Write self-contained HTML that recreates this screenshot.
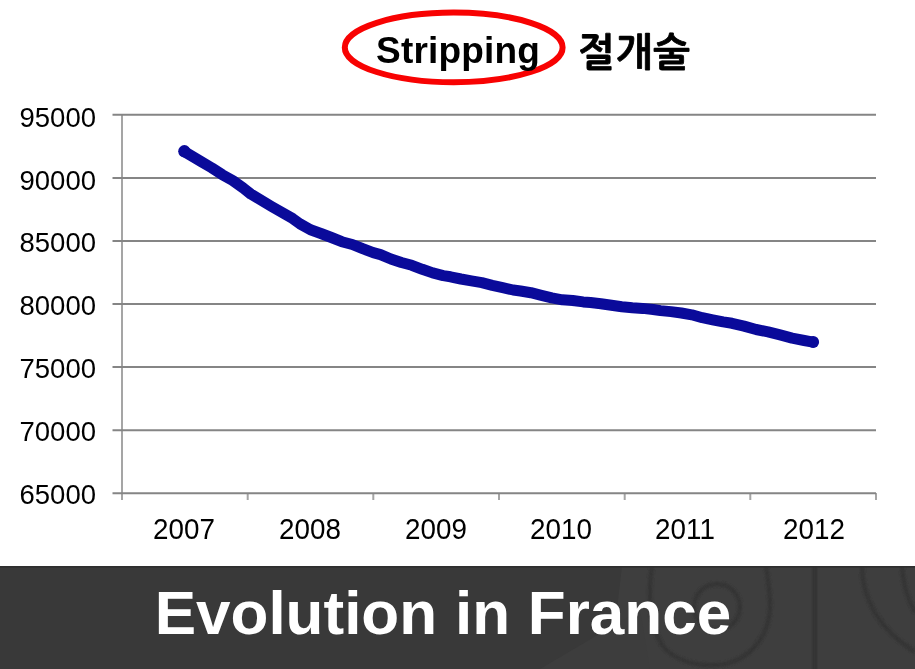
<!DOCTYPE html>
<html>
<head>
<meta charset="utf-8">
<style>
html,body{margin:0;padding:0;background:#fff;}
body{width:915px;height:669px;overflow:hidden;position:relative;font-family:"Liberation Sans",Arial,sans-serif;}
.abs{position:absolute;white-space:nowrap;}
.gs{will-change:transform;}
#ttl{left:375.8px;top:25.6px;font-size:37px;letter-spacing:0.2px;font-weight:bold;color:#000;line-height:50px;}
#ko{left:578px;top:28px;font-size:39px;font-weight:bold;color:#000;line-height:50px;letter-spacing:1px;-webkit-text-stroke:0.8px #000;font-family:"Liberation Sans","NanumGothic",sans-serif;}
.yl{position:absolute;left:0;width:96px;text-align:right;font-size:27.5px;line-height:30px;color:#000;}
.xl{position:absolute;width:126px;text-align:center;font-size:28.5px;line-height:30px;color:#000;top:512.9px;transform:scale(0.976,1.056);transform-origin:50% 50%;}
#banner{position:absolute;left:0;top:566px;width:915px;height:103px;background:#393939;overflow:hidden;}
#btxt{position:absolute;left:154.7px;top:578px;word-spacing:0.6px;font-size:62px;font-weight:bold;color:#fff;line-height:70px;}
</style>
</head>
<body>
<svg class="abs" style="left:0;top:0" width="915" height="669" viewBox="0 0 915 669">
  <ellipse cx="453.7" cy="47.4" rx="108.9" ry="34.8" fill="none" stroke="#f80202" stroke-width="6"/>
  <g stroke="#a5a5a5" stroke-width="2" fill="none">
    <line x1="122" y1="115" x2="122" y2="500"/>
    <line x1="247.7" y1="493" x2="247.7" y2="500"/>
    <line x1="373.3" y1="493" x2="373.3" y2="500"/>
    <line x1="499" y1="493" x2="499" y2="500"/>
    <line x1="624.7" y1="493" x2="624.7" y2="500"/>
    <line x1="750.3" y1="493" x2="750.3" y2="500"/>
    <line x1="876" y1="493" x2="876" y2="500"/>
  </g>
  <g stroke="#858585" stroke-width="2" fill="none">
    <line x1="112.5" y1="114.8" x2="876" y2="114.8"/>
    <line x1="112.5" y1="177.88" x2="876" y2="177.88"/>
    <line x1="112.5" y1="240.96" x2="876" y2="240.96"/>
    <line x1="112.5" y1="304.04" x2="876" y2="304.04"/>
    <line x1="112.5" y1="367.12" x2="876" y2="367.12"/>
    <line x1="112.5" y1="430.2" x2="876" y2="430.2"/>
    <line x1="112.5" y1="493.28" x2="876" y2="493.28"/>
  </g>
  <polyline fill="none" stroke="#0a0a9a" stroke-width="11" stroke-linecap="round" stroke-linejoin="round"
    points="184.6,151.7 190.9,155.5 201.4,161.7 211.8,167.9 222.3,174.7 232.7,180.5 243.2,188 250.9,194.1 271.8,206.6 292.7,218.6 300,223.9 310.5,229.8 320.9,233.5 331.4,237.5 341.8,241.7 352.3,244.5 362.7,248.7 373.2,252.6 380.5,254.6 390.9,259 401.4,262.5 411.8,265.3 422.3,269.3 432.7,272.9 443.2,275.6 450.5,276.8 460.9,279 471.4,280.8 481.8,282.7 492.3,285.3 502.7,287.6 513.2,290 520.5,291 530.9,292.7 541.4,295.3 551.8,297.9 562.3,299.8 572.7,300.5 583.2,301.9 590.5,302.5 600.9,303.7 611.4,305.3 621.8,306.7 632.3,307.7 642.7,308.4 653.2,309.5 660.5,310.6 670.9,311.6 681.4,313 691.8,314.8 702.3,317.7 712.7,319.8 723.2,321.9 732,323.3 744,326.1 756.1,329.5 768.1,331.9 780.1,334.9 792.1,338.1 804.2,340.5 813,342.1"/>
  <circle cx="184.4" cy="151.3" r="6.2" fill="#0a0a9a"/>
  <circle cx="813.2" cy="342" r="5.9" fill="#0a0a9a"/>
</svg>
<div class="abs gs" id="ttl">Stripping</div>
<div class="abs gs" id="ko">절개술</div>
<div class="yl gs" style="top:102.70px">95000</div>
<div class="yl gs" style="top:165.58px">90000</div>
<div class="yl gs" style="top:228.46px">85000</div>
<div class="yl gs" style="top:291.34px">80000</div>
<div class="yl gs" style="top:354.22px">75000</div>
<div class="yl gs" style="top:417.10px">70000</div>
<div class="yl gs" style="top:479.98px">65000</div>
<div class="xl" style="left:120.8px">2007</div>
<div class="xl" style="left:246.5px">2008</div>
<div class="xl" style="left:373.2px">2009</div>
<div class="xl" style="left:498.3px">2010</div>
<div class="xl" style="left:622.4px">2011</div>
<div class="xl" style="left:750.6px">2012</div>
<div id="banner"><svg width="915" height="103" viewBox="0 566 915 103" style="position:absolute;left:0;top:0">
  <defs><filter id="bl" x="-10%" y="-10%" width="120%" height="120%"><feGaussianBlur stdDeviation="1"/></filter></defs>
  <polygon points="622,566 915,566 915,669 610,669" fill="#3e3e3e"/>
  <polygon points="540,669 640,610 650,669" fill="#3d3d3d"/>
  <g fill="none" stroke="#353535" stroke-width="4.5" filter="url(#bl)">
    <path d="M652,566 C648,590 649,625 662,645 C675,662 700,668 725,664 C755,657 772,630 770,600 C769,585 767,572 766,566"/>
    <circle cx="717" cy="607" r="23"/>
    <path d="M862,566 C862,600 880,630 915,652"/>
    <path d="M902,566 C903,585 908,600 915,612"/>
  </g>
  <rect x="812.3" y="560" width="5" height="115" fill="#343434" filter="url(#bl)"/>
  <rect x="0" y="566" width="915" height="1.6" fill="#2e2e2e"/>
</svg></div>
<div class="abs" id="btxt">Evolution in France</div>
</body>
</html>
